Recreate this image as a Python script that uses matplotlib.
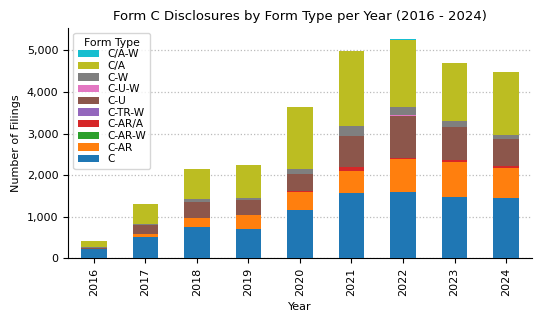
import matplotlib
matplotlib.use("Agg")
import matplotlib.pyplot as plt
import numpy as np
from matplotlib.ticker import FuncFormatter

years = ["2016", "2017", "2018", "2019", "2020", "2021", "2022", "2023", "2024"]
form_types = ["C", "C-AR", "C-AR-W", "C-AR/A", "C-TR-W", "C-U", "C-U-W", "C-W", "C/A", "C/A-W"]

c_vals      = [215, 510, 745, 700, 1160, 1565, 1590, 1470, 1445]
c_ar        = [0, 70, 215, 335, 430, 525, 790, 840, 720]
c_ar_w      = [0, 0, 15, 0, 0, 0, 0, 0, 0]
c_ar_a      = [0, 0, 0, 0, 25, 95, 30, 50, 50]
c_tr_w      = [0, 0, 0, 0, 0, 5, 0, 0, 0]
c_u         = [30, 220, 390, 355, 405, 760, 1020, 790, 645]
c_u_w       = [0, 0, 0, 0, 0, 0, 5, 0, 0]
c_w         = [15, 25, 50, 70, 120, 225, 215, 145, 95]
c_a         = [150, 490, 740, 780, 1510, 1820, 1605, 1410, 1530]
c_a_w       = [0, 0, 0, 0, 0, 0, 25, 0, 0]

series = [c_vals, c_ar, c_ar_w, c_ar_a, c_tr_w, c_u, c_u_w, c_w, c_a, c_a_w]
colors = plt.get_cmap("tab10").colors

fig = plt.figure(figsize=(5.41, 3.22), dpi=100)
ax = fig.add_axes([0.126, 0.198, 0.857, 0.715])
x = np.arange(len(years))
bottom = np.zeros(len(years))
for name, vals, col in zip(form_types, series, colors):
    v = np.array(vals, dtype=float)
    ax.bar(x, v, width=0.5, bottom=bottom, color=col, label=name, zorder=3)
    bottom += v

ax.set_xticks(x)
ax.set_xticklabels(years, rotation=90, fontsize=8)
ax.tick_params(axis="y", labelsize=8)
ax.set_xlim(-0.5, len(years) - 0.5)
ax.set_ylim(0, 5540)
ax.yaxis.set_major_formatter(FuncFormatter(lambda v, p: f"{int(v):,}"))
ax.grid(axis="y", linestyle=":", color="#bbbbbb", linewidth=0.9, zorder=0)
ax.spines["top"].set_visible(False)
ax.spines["right"].set_visible(False)
ax.set_xlabel("Year", fontsize=8)
ax.set_ylabel("Number of Filings", fontsize=8)
ax.set_title("Form C Disclosures by Form Type per Year (2016 - 2024)", fontsize=9.5)

h, l = ax.get_legend_handles_labels()
ax.legend(h[::-1], l[::-1], title="Form Type", fontsize=7.6, title_fontsize=7.8,
          loc="upper left", handlelength=2.0, labelspacing=0.16, borderpad=0.4)

fig.savefig("out.png", dpi=100)
